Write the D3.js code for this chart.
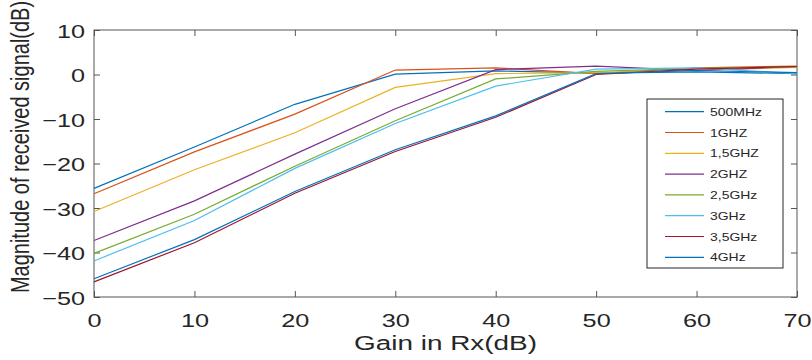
<!DOCTYPE html>
<html>
<head>
<meta charset="utf-8">
<script src="https://cdn.jsdelivr.net/npm/d3@7"></script>
<style>
  body { margin: 0; background: #fff; }
  svg { display: block; font-family: "Liberation Sans", Arial, sans-serif; }
</style>
</head>
<body>
<div id="chart"></div>
<script>
// gain steps (x axis)
var gains = [0, 10, 20, 30, 40, 50, 60, 70];

// received magnitude (dB) per frequency
var mag500MHz = [-25.6, -16.3, -6.7, 0.1, 0.8, 0.3, 0.6, 0.2];
var mag1GHz   = [-26.8, -17.4, -8.9, 1.0, 1.5, 0.2, 1.5, 1.9];
var mag15GHz  = [-30.8, -21.4, -13.1, -2.9, 0.2, 0.4, 0.9, 1.6];
var mag2GHz   = [-37.3, -28.4, -17.9, -7.7, 1.1, 1.9, 0.9, 1.8];
var mag25GHz  = [-40.2, -31.4, -20.6, -10.4, -1.0, 0.7, 1.4, 1.7];
var mag3GHz   = [-41.9, -32.8, -21.1, -11.0, -2.6, 1.2, 1.5, 0.2];
var mag35GHz  = [-46.6, -37.8, -26.7, -17.3, -9.6, 0.0, 1.2, 1.8];
var mag4GHz   = [-45.9, -37.1, -26.3, -16.9, -9.3, 0.2, 0.9, 0.4];

var labels = ["500MHz", "1GHZ", "1,5GHZ", "2GHZ", "2,5GHz", "3GHz", "3,5GHz", "4GHz"];
var colors = ["#0072BD", "#D95319", "#EDB120", "#7E2F8E", "#77AC30", "#4DBEEE", "#A2142F", "#0072BD"];
var allSeries = [mag500MHz, mag1GHz, mag15GHz, mag2GHz, mag25GHz, mag3GHz, mag35GHz, mag4GHz];

var xTicks = [0, 10, 20, 30, 40, 50, 60, 70];
var yTicks = [-50, -40, -30, -20, -10, 0, 10];

var width = 812, height = 360;
var plotLeft = 94, plotRight = 797, plotTop = 30, plotBottom = 297;
var stretch = 1.33; // text in the picture is wider than normal

var svg = d3.select("#chart").append("svg")
    .attr("width", width)
    .attr("height", height);

var x = d3.scaleLinear().domain([0, 70]).range([plotLeft, plotRight]);
var y = d3.scaleLinear().domain([-50, 10]).range([plotBottom, plotTop]);

// inward ticks on all four sides
var gx = svg.append("g")
    .attr("transform", "translate(0," + plotBottom + ")")
    .call(d3.axisBottom(x).tickValues(xTicks).tickSize(-6).tickFormat(d3.format("d")));
var gy = svg.append("g")
    .attr("transform", "translate(" + plotLeft + ",0)")
    .call(d3.axisLeft(y).tickValues(yTicks).tickSize(-6).tickFormat(d3.format("d")));
svg.append("g")
    .attr("transform", "translate(0," + plotTop + ")")
    .call(d3.axisTop(x).tickValues(xTicks).tickSize(-6).tickFormat(""));
svg.append("g")
    .attr("transform", "translate(" + plotRight + ",0)")
    .call(d3.axisRight(y).tickValues(yTicks).tickSize(-6).tickFormat(""));

svg.selectAll(".domain").remove();
svg.selectAll(".tick line").attr("stroke", "#555").attr("stroke-width", 1);

gx.selectAll(".tick text")
    .attr("x", null).attr("y", null).attr("dy", null)
    .attr("text-anchor", "middle")
    .attr("transform", "translate(0,30) scale(" + stretch + ",1)")
    .style("font-size", "19px")
    .attr("fill", "#262626");
gy.selectAll(".tick text")
    .attr("x", null).attr("y", null).attr("dy", null)
    .attr("text-anchor", "end")
    .attr("transform", "translate(-9,7) scale(" + stretch + ",1)")
    .style("font-size", "19px")
    .attr("fill", "#262626");

svg.append("rect")
    .attr("x", plotLeft).attr("y", plotTop)
    .attr("width", plotRight - plotLeft).attr("height", plotBottom - plotTop)
    .attr("fill", "none")
    .attr("stroke", "#555")
    .attr("stroke-width", 1);

// axis labels
svg.append("text")
    .attr("transform", "translate(" + ((plotLeft + plotRight) / 2) + ",350) scale(" + stretch + ",1)")
    .attr("text-anchor", "middle")
    .style("font-size", "21px")
    .attr("fill", "#262626")
    .text("Gain in Rx(dB)");
svg.append("text")
    .attr("transform", "translate(29,147) scale(" + stretch + ",1) rotate(-90)")
    .attr("text-anchor", "middle")
    .style("font-size", "20px")
    .attr("fill", "#262626")
    .text("Magnitude of received signal(dB)");

var line = d3.line()
    .x(function (d, i) { return x(gains[i]); })
    .y(function (d) { return y(d); });

svg.append("g").selectAll("path")
    .data(allSeries)
    .join("path")
    .attr("d", line)
    .attr("fill", "none")
    .attr("stroke", function (d, i) { return colors[i]; })
    .attr("stroke-width", 1.2);

// legend
var legend = svg.append("g");
legend.append("rect")
    .attr("x", 647).attr("y", 99)
    .attr("width", 136).attr("height", 169)
    .attr("fill", "#fff")
    .attr("stroke", "#262626")
    .attr("stroke-width", 1);

var rows = legend.selectAll("g.row")
    .data(labels)
    .join("g")
    .attr("class", "row")
    .attr("transform", function (d, i) { return "translate(0," + (111.7 + i * 20.8) + ")"; });
rows.append("line")
    .attr("x1", 665).attr("x2", 704)
    .attr("stroke", function (d, i) { return colors[i]; })
    .attr("stroke-width", 1.2);
rows.append("text")
    .attr("transform", "translate(710,4) scale(" + stretch + ",1)")
    .style("font-size", "10.5px")
    .attr("fill", "#262626")
    .text(function (d) { return d; });
</script>
</body>
</html>
